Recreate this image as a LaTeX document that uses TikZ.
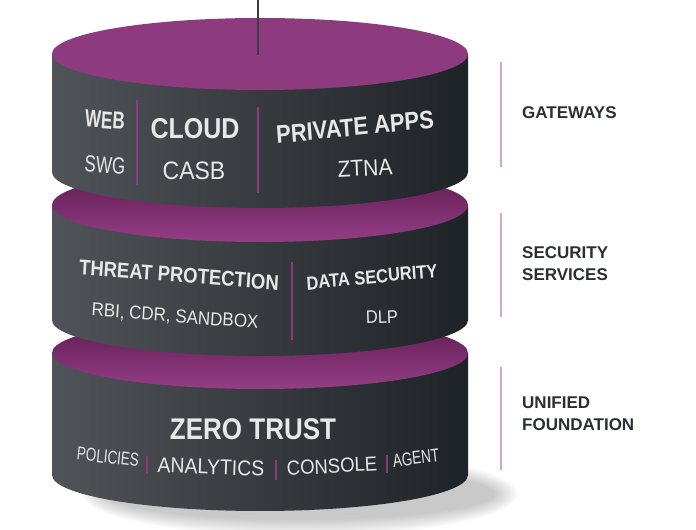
\documentclass[tikz,border=0pt]{standalone}
\usepackage{fontspec}
\setmainfont{Liberation Sans}
\definecolor{ptop}{HTML}{8E3A7F}
\definecolor{pdark}{HTML}{5C1A4E}
\definecolor{plight}{HTML}{943D86}
\definecolor{sideL}{HTML}{505357}
\definecolor{sideR}{HTML}{1E2328}
\definecolor{txt}{HTML}{E8E8E8}
\definecolor{lbl}{HTML}{2A2E35}
\definecolor{pink}{HTML}{D3A7CD}
\definecolor{stem}{HTML}{3A3D42}
\tikzset{
  side/.style={shading=axis, left color=sideL, right color=sideR, shading angle=90},
  hd/.style={text=txt, font=\bfseries\fontsize{#1}{#1}\selectfont, inner sep=0pt, yscale=1.15},
  sb/.style={text=txt, font=\fontsize{#1}{#1}\selectfont, inner sep=0pt, yscale=1.1},
  tall/.style={yscale=1.25},
  divp/.style={draw=ptop, line width=1.5pt},
  lab/.style={text=lbl, font=\bfseries\fontsize{17}{22}\selectfont, align=left, anchor=west, inner sep=0pt},
  pline/.style={draw=pink, line width=2pt}
}
\newcommand{\cylside}[2]{% top center y, bottom center y
  \path[side] (52,#1) -- (52,#2) arc[start angle=180, end angle=360, x radius=208, y radius=36] -- (468,#1) -- cycle;}
\begin{document}
\begin{tikzpicture}[x=1pt,y=1pt]
\useasboundingbox (0,0) rectangle (696,530);
% shadow
\foreach \i in {0,...,9} {
  \fill[black, opacity=0.025] (300,36) ellipse[x radius={195+2.5*\i}, y radius={26+1.8*\i}];
}
% cylinder 3
\cylside{177}{55}
\shade[top color=pdark, bottom color=plight] (260,177) ellipse[x radius=208, y radius=36];
% cylinder 2
\cylside{325}{210}
\shade[top color=pdark, bottom color=plight] (260,325) ellipse[x radius=208, y radius=37];
% cylinder 1
\cylside{476}{358}
\fill[ptop] (260,476) ellipse[x radius=208, y radius=36];
% stem
\coordinate (stemtop) at (258,530);
\coordinate (stembot) at (258,475);
\draw[stem, line width=1.3pt] (stemtop) -- (stembot);
% top cylinder texts
\node[hd=17, rotate=-4, tall] (web) at (105,410) {WEB};
\node[sb=17, rotate=-4, tall] (swg) at (105,365) {SWG};
\node[hd=25] (cloud) at (195,401) {CLOUD};
\node[sb=23] (casb) at (194,359) {CASB};
\node[hd=22, rotate=5] (papps) at (355,403) {PRIVATE APPS};
\node[sb=21, rotate=3] (ztna) at (365,362) {ZTNA};
\coordinate (d1a) at (137,430); \coordinate (d1b) at (137,345);
\coordinate (d2a) at (258,423); \coordinate (d2b) at (258,337);
\draw[divp] (d1a) -- (d1b);
\draw[divp] (d2a) -- (d2b);
% second cylinder texts
\node[hd=18.5, rotate=-4] (threat) at (179,255) {THREAT PROTECTION};
\node[sb=17, rotate=-4] (rbi) at (175,213) {RBI, CDR, SANDBOX};
\node[hd=16.5, rotate=5] (dsec) at (372,253) {DATA SECURITY};
\node[sb=16.5, rotate=2] (dlp) at (382,213) {DLP};
\coordinate (d3a) at (292,268); \coordinate (d3b) at (292,190);
\draw[divp] (d3a) -- (d3b);
% third cylinder texts
\node[hd=26] (zt) at (253,101) {ZERO TRUST};
\node[sb=13.5, rotate=-6, tall] (pol) at (108,73) {POLICIES};
\node[sb=19.5, rotate=-2] (ana) at (211,63) {ANALYTICS};
\node[sb=18.5, rotate=3] (con) at (332,64) {CONSOLE};
\node[sb=13.5, rotate=7, tall] (age) at (416,72) {AGENT};
\coordinate (b1a) at (147,74); \coordinate (b1b) at (147,56);
\coordinate (b2a) at (276,70); \coordinate (b2b) at (276,50);
\coordinate (b3a) at (387,75); \coordinate (b3b) at (387,57);
\draw[divp] (b1a) -- (b1b);
\draw[divp] (b2a) -- (b2b);
\draw[divp] (b3a) -- (b3b);
% right labels
\coordinate (p1a) at (501,468); \coordinate (p1b) at (501,363);
\coordinate (p2a) at (501,317); \coordinate (p2b) at (501,213);
\coordinate (p3a) at (501,163); \coordinate (p3b) at (501,60);
\draw[pline] (p1a) -- (p1b);
\draw[pline] (p2a) -- (p2b);
\draw[pline] (p3a) -- (p3b);
\node[lab] (gw) at (522,417) {GATEWAYS};
\node[lab] (ss) at (522,266) {SECURITY\\SERVICES};
\node[lab] (uf) at (522,116) {UNIFIED\\FOUNDATION};
\end{tikzpicture}
\end{document}
